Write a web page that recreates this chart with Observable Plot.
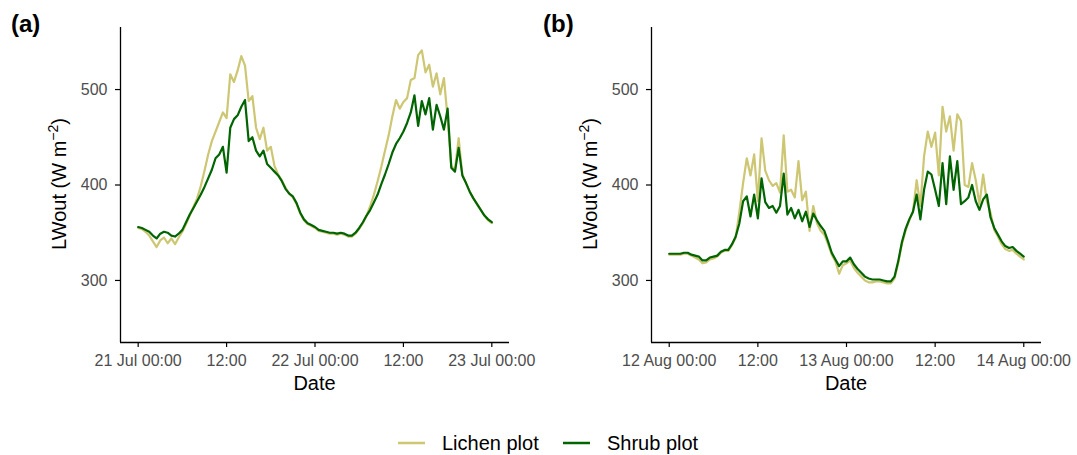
<!DOCTYPE html>
<html>
<head>
<meta charset="utf-8">
<script src="https://cdn.jsdelivr.net/npm/d3@7"></script>
<script src="https://cdn.jsdelivr.net/npm/@observablehq/plot@0.6"></script>
<style>
  body { margin: 0; background: #ffffff; }
  #root { position: relative; width: 1077px; height: 455px; overflow: hidden; font-family: "Liberation Sans", Arial, Helvetica, sans-serif; }
  .panel { position: absolute; top: 0; }
  #legend { position: absolute; left: 0; top: 400px; }
</style>
</head>
<body>
<div id="root">
  <div id="panelA" class="panel" style="left:0px"></div>
  <div id="panelB" class="panel" style="left:540px"></div>
  <div id="legend"></div>
</div>
<script>
// ---------------- data (30-minute readings, 48 h per panel) ----------------
const seriesNames = ["Lichen plot", "Shrub plot"];
const seriesColors = ["#cdc673", "#006400"];
const yTicks = [300, 400, 500];
const yLimits = [250, 550];
const panelLabels = ["(a)", "(b)"];
const panelStarts = ["2020-07-21T00:00:00Z", "2020-08-12T00:00:00Z"];
const stepMinutes = 30;

const julLichen = [355,354,351,347,341,335,342,345,339,344,338,345,351,359,368,377,386,399,415,432,
  446,456,466,476,470,516,508,520,535,525,488,493,460,448,460,436,440,420,411,405,
  397,391,387,380,370,363,359,357,355,352,351,350,349,349,348,349,348,346,346,349,
  354,360,368,378,390,404,419,436,452,472,489,480,487,491,510,512,536,541,518,526,
  503,517,495,512,470,420,416,449,411,402,393,386,380,374,368,363,360];
const julShrub = [356,355,353,351,347,344,349,351,350,347,346,349,353,361,369,376,383,390,398,407,
  416,428,432,440,413,460,469,473,482,489,446,450,436,430,436,422,418,414,410,404,
  396,391,388,381,371,364,360,358,356,353,352,351,350,350,349,350,349,347,347,350,
  355,361,368,374,382,390,401,411,422,434,443,449,456,465,476,494,462,488,474,491,
  458,484,472,458,480,418,414,439,410,402,393,386,380,374,368,364,361];
const augLichen = [327,327,327,327,328,328,326,324,322,318,319,322,323,325,329,331,331,337,345,372,
  402,428,410,432,383,449,415,405,399,402,392,452,393,395,387,425,384,393,352,378,
  360,352,348,338,327,320,307,316,318,321,313,308,304,300,298,298,299,299,298,297,
  297,302,318,338,352,363,372,405,378,430,456,440,455,410,482,456,472,436,474,467,
  400,398,423,405,380,411,383,371,353,346,338,333,331,332,328,325,322];
const augShrub = [328,328,328,328,329,329,327,326,325,321,321,324,325,326,330,332,332,338,346,360,
  383,388,367,390,365,407,382,376,378,371,378,412,369,376,365,374,362,372,356,370,
  363,357,352,341,329,322,315,320,320,324,317,312,308,304,302,301,301,301,300,299,
  299,304,320,340,354,364,372,390,364,395,414,411,395,378,423,380,430,395,425,380,
  383,387,400,383,374,385,390,366,355,348,341,336,334,335,331,328,325];

// ---------------- helpers ----------------
const FONT = '"Liberation Sans", Arial, Helvetica, sans-serif';
const HOUR = 3600 * 1000;

function toRows(startIso, values, name) {
  const t0 = new Date(startIso).getTime();
  return values.map((v, i) => ({t: new Date(t0 + i * stepMinutes * 60000), v, series: name}));
}

const fmtDay = d3.utcFormat("%d %b %H:%M");
const fmtHour = d3.utcFormat("%H:%M");

function makePanel(startIso, lichen, shrub, opts) {
  const t0 = new Date(startIso).getTime();
  const span = (lichen.length - 1) * stepMinutes * 60000;
  const pad = span * 0.05;
  const xDomain = [new Date(t0 - pad), new Date(t0 + span + pad)];
  const yPad = (yLimits[1] - yLimits[0]) * 0.05;
  const yDomain = [yLimits[0] - yPad, yLimits[1] + yPad];
  const xTicks = d3.range(0, 5).map(i => new Date(t0 + i * 12 * HOUR));
  const rowsL = toRows(startIso, lichen, seriesNames[0]);
  const rowsS = toRows(startIso, shrub, seriesNames[1]);

  const plot = Plot.plot({
    width: opts.width,
    height: 400,
    marginLeft: opts.marginLeft,
    marginRight: opts.marginRight,
    marginTop: 27,
    marginBottom: 58,
    style: {fontFamily: FONT, fontSize: "16px", color: "#000000", background: "transparent", overflow: "visible"},
    x: {type: "utc", domain: xDomain, ticks: xTicks, label: null, tickSize: 5, tickPadding: 7,
        tickFormat: d => d.getUTCHours() === 0 ? fmtDay(d) : fmtHour(d)},
    y: {domain: yDomain, ticks: yTicks, label: null, tickSize: 5, tickPadding: 8},
    marks: [
      Plot.line(rowsL, {x: "t", y: "v", stroke: seriesColors[0], strokeWidth: 2.2}),
      Plot.line(rowsS, {x: "t", y: "v", stroke: seriesColors[1], strokeWidth: 2.2}),
      Plot.ruleX([xDomain[0]], {stroke: "#000000", strokeWidth: 1.3}),
      Plot.ruleY([yDomain[0]], {stroke: "#000000", strokeWidth: 1.3})
    ]
  });

  const svg = d3.select(plot);
  svg.selectAll('[aria-label^="x-axis"] text, [aria-label^="y-axis"] text').attr("fill", "#4d4d4d");
  svg.selectAll('[aria-label^="x-axis"] line, [aria-label^="y-axis"] line, [aria-label^="x-axis"] path, [aria-label^="y-axis"] path').attr("stroke-width", 1.2);

  const xMid = (opts.marginLeft + (opts.width - opts.marginRight)) / 2;
  svg.append("text")
    .attr("x", xMid).attr("y", 390)
    .attr("text-anchor", "middle")
    .attr("font-family", FONT).attr("font-size", 20).attr("fill", "#000000")
    .text("Date");

  const yt = svg.append("text")
    .attr("transform", `translate(${opts.marginLeft - 61.5},184) rotate(-90)`)
    .attr("dy", "0.35em")
    .attr("text-anchor", "middle")
    .attr("font-family", FONT).attr("font-size", 20).attr("fill", "#000000");
  yt.append("tspan").text("LWout (W m");
  yt.append("tspan").attr("dy", -8).attr("font-size", 14).text("\u22122");
  yt.append("tspan").attr("dy", 8).text(")");

  svg.append("text")
    .attr("x", opts.tagX).attr("y", 31.5)
    .attr("text-anchor", "start")
    .attr("font-family", FONT).attr("font-size", 24).attr("font-weight", "bold").attr("fill", "#000000")
    .text(opts.tag);

  return plot;
}

document.getElementById("panelA").appendChild(
  makePanel(panelStarts[0], julLichen, julShrub, {width: 540, marginLeft: 120, marginRight: 31, tag: panelLabels[0], tagX: 11}));
document.getElementById("panelB").appendChild(
  makePanel(panelStarts[1], augLichen, augShrub, {width: 537, marginLeft: 111, marginRight: 36, tag: panelLabels[1], tagX: 3}));

// ---------------- legend ----------------
const leg = d3.select("#legend").append("svg").attr("width", 1077).attr("height", 55);
const legItems = [
  {name: seriesNames[0], color: seriesColors[0], x: 398},
  {name: seriesNames[1], color: seriesColors[1], x: 563}
];
legItems.forEach(it => {
  leg.append("line").attr("x1", it.x).attr("x2", it.x + 27).attr("y1", 43).attr("y2", 43)
    .attr("stroke", it.color).attr("stroke-width", 2.5);
  leg.append("text").attr("x", it.x + 44).attr("y", 50)
    .attr("font-family", FONT).attr("font-size", 20).attr("fill", "#000000").text(it.name);
});
</script>
</body>
</html>
